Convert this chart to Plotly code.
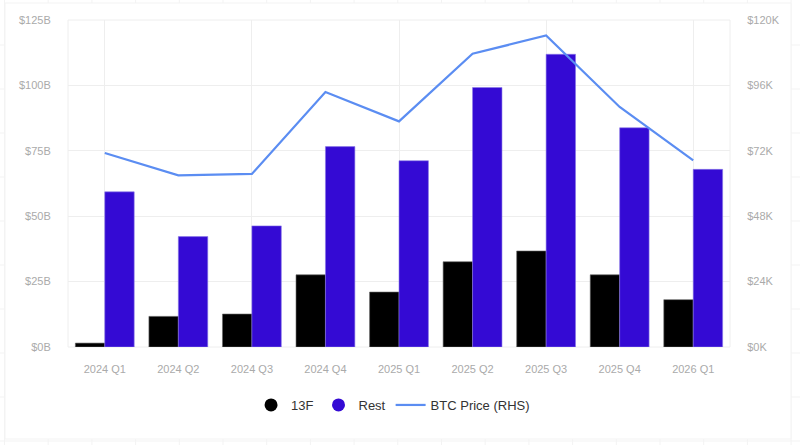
import plotly.graph_objects as go

quarters = ["2024 Q1", "2024 Q2", "2024 Q3", "2024 Q4", "2025 Q1",
            "2025 Q2", "2025 Q3", "2025 Q4", "2026 Q1"]
f13 = [1.5, 11.7, 12.6, 27.6, 21.0, 32.6, 36.7, 27.6, 18.1]
rest = [59.3, 42.2, 46.3, 76.6, 71.2, 99.2, 111.9, 83.8, 67.9]
btc = [71.2, 63.0, 63.5, 93.6, 82.8, 107.6, 114.3, 88.1, 68.5]

left_ticks = [0, 25, 50, 75, 100, 125]
left_text = ["$0B", "$25B", "$50B", "$75B", "$100B", "$125B"]
right_ticks = [0, 24, 48, 72, 96, 120]
right_text = ["$0K", "$24K", "$48K", "$72K", "$96K", "$120K"]

BLACK = "#000000"
PURPLE = "#340AD4"
BLUE = "#5B8DF2"
GRID = "#EEEEEE"
TICKFONT = dict(family="Liberation Sans, Arial", size=11, color="#AAAAAA")

# plot area in pixels, used to place the page decoration
L, R, T, B = 68, 730, 20, 347
W, H = R - L, B - T


def px(x):
    return (x - L) / W


def py(y):
    return (B - y) / H


xs = list(range(len(quarters)))

fig = go.Figure()
fig.add_trace(go.Bar(x=xs, y=f13, name="13F", marker_color=BLACK,
                     marker_line=dict(color="#666666", width=0.6),
                     showlegend=False, hovertemplate="%{y:.1f}B<extra>13F</extra>"))
fig.add_trace(go.Bar(x=xs, y=rest, name="Rest", marker_color=PURPLE,
                     marker_line=dict(color="#8A78E8", width=0.6),
                     showlegend=False, hovertemplate="%{y:.1f}B<extra>Rest</extra>"))
fig.add_trace(go.Scatter(x=xs, y=btc, name="BTC Price (RHS)", mode="lines",
                         line=dict(color=BLUE, width=2.2), yaxis="y2",
                         showlegend=False))

# legend entries with round markers
fig.add_trace(go.Scatter(x=[None], y=[None], mode="markers", name="13F",
                         marker=dict(color=BLACK, size=13, symbol="circle")))
fig.add_trace(go.Scatter(x=[None], y=[None], mode="markers", name="Rest",
                         marker=dict(color=PURPLE, size=13, symbol="circle")))
fig.add_trace(go.Scatter(x=[None], y=[None], mode="lines", name="BTC Price (RHS)",
                         line=dict(color=BLUE, width=2.2)))

# faint page grid behind the white card
shapes = []
gx = 4.5
while gx < 800:
    shapes.append(dict(type="line", xref="paper", yref="paper",
                       x0=px(gx), x1=px(gx), y0=py(445), y1=py(0),
                       line=dict(color="#F3F3F3", width=1), layer="below"))
    gx += 43.7
gy = 45
while gy < 445:
    shapes.append(dict(type="line", xref="paper", yref="paper",
                       x0=px(0), x1=px(800), y0=py(gy), y1=py(gy),
                       line=dict(color="#F3F3F3", width=1), layer="below"))
    gy += 44
shapes.append(dict(type="rect", xref="paper", yref="paper",
                   x0=px(5), x1=px(791), y0=py(439), y1=py(3),
                   fillcolor="#FFFFFF", line=dict(color="#F3F3F3", width=1),
                   layer="below"))
# plot area frame
shapes.append(dict(type="rect", xref="paper", yref="paper", x0=0, x1=1, y0=0, y1=1,
                   line=dict(color=GRID, width=1), layer="below"))

fig.update_layout(
    width=800, height=445,
    margin=dict(l=L, r=800 - R, t=T, b=445 - B, autoexpand=False),
    paper_bgcolor="#FFFFFF", plot_bgcolor="#FFFFFF",
    barmode="group", bargap=0.2, bargroupgap=0,
    font=dict(family="Liberation Sans, Arial"),
    xaxis=dict(tickvals=xs, ticktext=quarters, range=[-0.5, 8.5],
               showgrid=False, zeroline=False, tickfont=TICKFONT,
               ticks="outside", ticklen=12, tickcolor="rgba(0,0,0,0)",
               showline=False, automargin=False,
               minor=dict(tick0=0, dtick=2, showgrid=True, gridcolor=GRID,
                          gridwidth=1, ticks="")),
    yaxis=dict(range=[0, 125], tickvals=left_ticks, ticktext=left_text,
               showgrid=True, gridcolor=GRID, zeroline=False, automargin=False,
               tickfont=TICKFONT, ticks="outside", ticklen=14,
               tickcolor="rgba(0,0,0,0)"),
    yaxis2=dict(range=[0, 120], tickvals=right_ticks, ticktext=right_text,
                overlaying="y", side="right", showgrid=False, zeroline=False,
                automargin=False, tickfont=TICKFONT, ticks="outside", ticklen=14,
                tickcolor="rgba(0,0,0,0)"),
    legend=dict(orientation="h", x=0.491, xanchor="center", y=py(405),
                yanchor="middle", font=dict(size=13, color="#333333"),
                itemsizing="trace", itemwidth=30),
    shapes=shapes,
    hovermode="x unified",
)

CONF = {"displayModeBar": False, "responsive": False}

# the page body has a default 8px margin; drop it so the figure sits at 0,0
fig.write_html("out.html", config=CONF,
               post_script="document.body.style.margin='0';")
